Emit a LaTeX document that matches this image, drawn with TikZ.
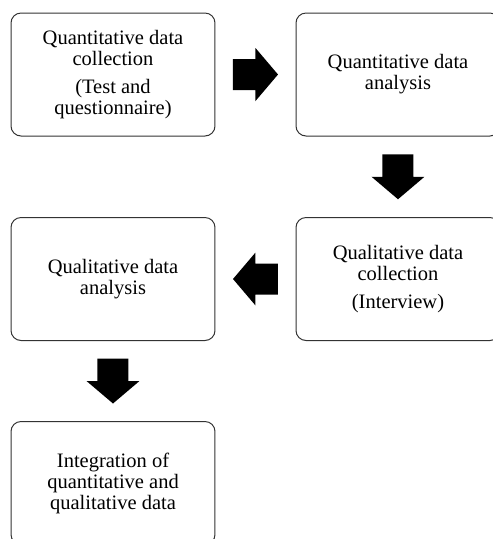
\documentclass[tikz,border=0pt]{standalone}
\usepackage{fontspec}
\setmainfont{Liberation Serif}
\usetikzlibrary{calc}
\def\fatarrow(#1)(#2){\fill[black, shift={(#1)}, rotate=#2] (-22.5,-15.5) -- (0,-15.5) -- (0,-26.5) -- (22.5,0) -- (0,26.5) -- (0,15.5) -- (-22.5,15.5) -- cycle;}

\begin{document}
\begin{tikzpicture}[x=0.6pt, y=-0.6pt,
	stagebox/.style={draw=black!80, line width=0.6pt, rounded corners=6pt, fill=white,
		minimum width=122.4pt, minimum height=73.8pt, inner sep=0pt, align=center,
		font=\fontsize{12.3}{12.6}\selectfont}]
		%%%%% START %%%%%
		\useasboundingbox (0, 0) rectangle (493, 539);
		
		\node[stagebox] (qncoll) at (113, 74.5) {Quantitative data\\collection\\[4pt](Test and\\questionnaire)};
		\node[stagebox] (qnanal) at (398, 74.5) {Quantitative data\\analysis};
		\node[stagebox] (qlcoll) at (398, 279) {Qualitative data\\collection\\[4pt](Interview)};
		\node[stagebox] (qlanal) at (113, 279) {Qualitative data\\analysis};
		\node[stagebox] (integ) at (113, 483) {Integration of\\quantitative and\\qualitative data};
		
		\coordinate (a1) at ($(qncoll.east)!0.5!(qnanal.west)$);
		\coordinate (a2) at ($(qnanal.south)!0.5!(qlcoll.north)$);
		\coordinate (a3) at ($(qlcoll.west)!0.5!(qlanal.east)$);
		\coordinate (a4) at ($(qlanal.south)!0.5!(integ.north)$);
		
		\fatarrow(a1)(0)
		\fatarrow(a2)(-90)
		\fatarrow(a3)(180)
		\fatarrow(a4)(-90)
		%%%%% END %%%%%
	\end{tikzpicture}
\end{document}
